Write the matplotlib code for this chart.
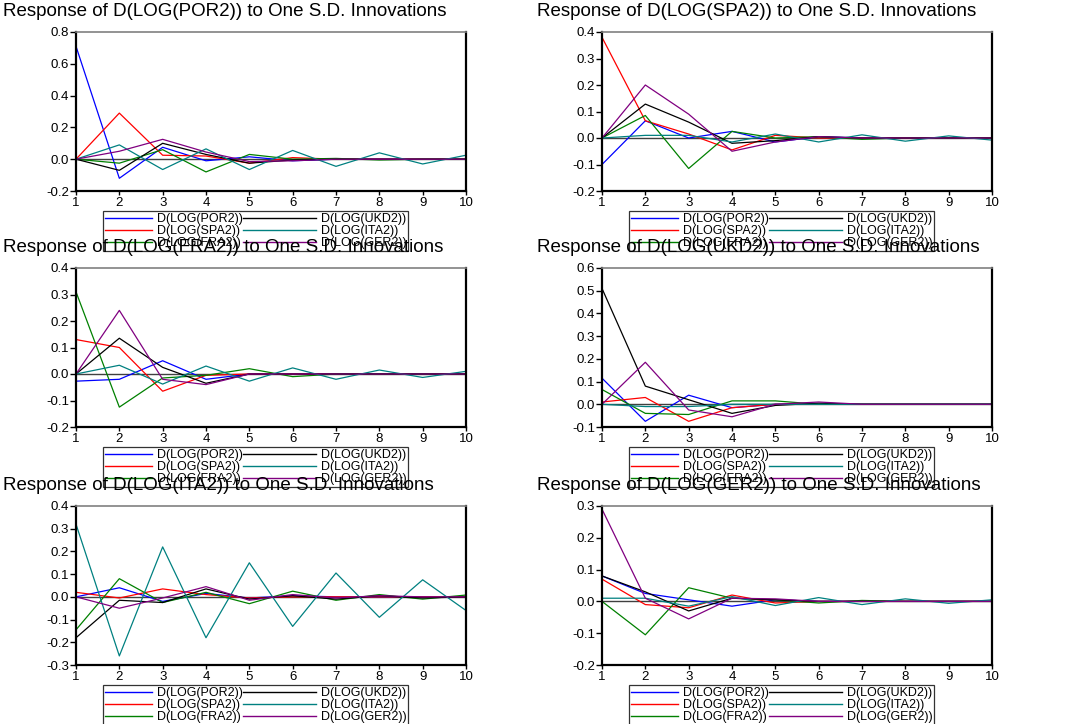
import matplotlib
matplotlib.use('Agg')
import matplotlib.pyplot as plt
from matplotlib.ticker import FuncFormatter, FixedLocator
from matplotlib.legend_handler import HandlerLine2D

plt.rcParams['font.family'] = ['Liberation Sans', 'DejaVu Sans']

horizon = list(range(1, 11))
shock_labels = ['D(LOG(POR2))', 'D(LOG(SPA2))', 'D(LOG(FRA2))',
                'D(LOG(UKD2))', 'D(LOG(ITA2))', 'D(LOG(GER2))']
shock_colors = ['#0000ff', '#ff0000', '#008000', '#000000', '#008080', '#800080']

# each row: response to a shock in POR2, SPA2, FRA2, UKD2, ITA2, GER2
resp_por = [
    [0.71, -0.12, 0.075, -0.01, 0.015, -0.01, 0.0, 0.0, 0.0, 0.0],
    [0.0, 0.29, 0.025, 0.02, -0.025, 0.01, 0.0, 0.0, 0.0, 0.0],
    [0.0, -0.025, 0.06, -0.08, 0.03, 0.0, 0.005, -0.005, 0.0, 0.0],
    [0.0, -0.07, 0.10, 0.03, -0.025, -0.005, 0.0, 0.0, 0.0, 0.0],
    [0.0, 0.09, -0.065, 0.065, -0.065, 0.055, -0.045, 0.04, -0.03, 0.025],
    [0.0, 0.05, 0.125, 0.045, -0.015, -0.01, 0.0, 0.0, 0.0, 0.0],
]
resp_spa = [
    [-0.10, 0.065, 0.0, 0.025, -0.015, 0.005, 0.0, 0.0, 0.0, 0.0],
    [0.38, 0.065, 0.015, -0.045, 0.01, 0.0, 0.0, 0.0, 0.0, 0.0],
    [0.0, 0.085, -0.115, 0.025, 0.0, 0.005, -0.005, 0.0, 0.0, 0.0],
    [0.0, 0.128, 0.06, -0.02, -0.01, 0.005, 0.0, 0.0, 0.0, 0.0],
    [0.0, 0.01, 0.01, -0.015, 0.015, -0.015, 0.012, -0.012, 0.008, -0.008],
    [0.0, 0.20, 0.09, -0.05, -0.015, 0.005, 0.0, 0.0, 0.0, 0.0],
]
resp_fra = [
    [-0.027, -0.02, 0.05, -0.02, 0.0, 0.0, 0.0, 0.0, 0.0, 0.0],
    [0.13, 0.10, -0.065, -0.005, 0.0, 0.0, 0.0, 0.0, 0.0, 0.0],
    [0.31, -0.125, -0.015, -0.005, 0.02, -0.01, 0.0, 0.0, 0.0, 0.0],
    [0.0, 0.135, 0.025, -0.035, 0.0, 0.0, 0.0, 0.0, 0.0, 0.0],
    [0.0, 0.033, -0.038, 0.03, -0.027, 0.023, -0.02, 0.015, -0.013, 0.01],
    [0.0, 0.24, -0.02, -0.04, 0.0, 0.0, 0.0, 0.0, 0.0, 0.0],
]
resp_ukd = [
    [0.115, -0.075, 0.04, -0.015, 0.0, 0.0, 0.0, 0.0, 0.0, 0.0],
    [0.01, 0.03, -0.075, -0.015, 0.0, 0.0, 0.0, 0.0, 0.0, 0.0],
    [0.065, -0.04, -0.045, 0.015, 0.015, 0.0, 0.0, 0.0, 0.0, 0.0],
    [0.51, 0.08, 0.02, -0.04, -0.005, 0.005, 0.0, 0.0, 0.0, 0.0],
    [0.0, -0.01, -0.01, 0.0, 0.0, 0.0, 0.0, 0.0, 0.0, 0.0],
    [0.0, 0.185, -0.025, -0.055, 0.0, 0.01, 0.0, 0.0, 0.0, 0.0],
]
resp_ita = [
    [0.0, 0.04, -0.02, 0.015, -0.005, 0.005, 0.0, 0.0, 0.0, 0.0],
    [0.02, -0.005, 0.035, 0.01, -0.005, 0.0, 0.0, 0.0, 0.0, 0.0],
    [-0.145, 0.08, -0.025, 0.02, -0.03, 0.025, -0.015, 0.01, -0.01, 0.008],
    [-0.18, -0.015, -0.025, 0.035, -0.01, 0.005, -0.01, 0.005, -0.005, 0.0],
    [0.32, -0.26, 0.22, -0.18, 0.15, -0.13, 0.105, -0.09, 0.075, -0.06],
    [0.0, -0.05, -0.005, 0.045, -0.015, 0.01, -0.005, 0.005, 0.0, 0.0],
]
resp_ger = [
    [0.08, 0.025, 0.005, -0.015, 0.005, 0.0, 0.0, 0.0, 0.0, 0.0],
    [0.07, -0.01, -0.02, 0.02, -0.005, 0.0, 0.0, 0.0, 0.0, 0.0],
    [0.0, -0.105, 0.043, 0.01, 0.005, -0.005, 0.003, 0.0, 0.0, 0.0],
    [0.08, 0.03, -0.03, 0.01, 0.005, 0.0, 0.0, 0.0, 0.0, 0.0],
    [0.01, 0.01, -0.015, 0.015, -0.013, 0.012, -0.01, 0.008, -0.006, 0.005],
    [0.29, 0.01, -0.055, 0.01, 0.008, 0.0, 0.0, 0.0, 0.0, 0.0],
]

titles = ['Response of D(LOG(POR2)) to One S.D. Innovations',
          'Response of D(LOG(SPA2)) to One S.D. Innovations',
          'Response of D(LOG(FRA2)) to One S.D. Innovations',
          'Response of D(LOG(UKD2)) to One S.D. Innovations',
          'Response of D(LOG(ITA2)) to One S.D. Innovations',
          'Response of D(LOG(GER2)) to One S.D. Innovations']
panel_data = [resp_por, resp_spa, resp_fra, resp_ukd, resp_ita, resp_ger]
y_limits = [(-0.2, 0.8), (-0.2, 0.4), (-0.2, 0.4), (-0.1, 0.6), (-0.3, 0.4), (-0.2, 0.3)]
y_steps = [0.2, 0.1, 0.1, 0.1, 0.1, 0.1]


class HandlerLeftExt(HandlerLine2D):
    """Line handle extended to the left (into the column gap)."""
    def __init__(self, ext, **kw):
        super().__init__(**kw)
        self.ext = ext

    def create_artists(self, legend, orig_handle, xdescent, ydescent,
                       width, height, fontsize, trans):
        return super().create_artists(legend, orig_handle, xdescent + self.ext,
                                      ydescent, width + self.ext, height,
                                      fontsize, trans)


W, H = 1078, 724
fig = plt.figure(figsize=(W / 100, H / 100), dpi=100)

lefts = [76, 602]
tops = [32, 268, 506]
ax_w, ax_h = 390, 159

fmt = FuncFormatter(lambda v, p: ('%.1f' % (round(v, 3) + 0.0)).replace('-0.0', '0.0'))

LEG_FS = 9
COLSP = 2.0
ext_pts = COLSP * LEG_FS

for i in range(6):
    r, c = divmod(i, 2)
    L, T = lefts[c], tops[r]
    ax = fig.add_axes([L / W, 1 - (T + ax_h) / H, ax_w / W, ax_h / H])
    ax.axhline(0, color='#404040', lw=1.0, zorder=1)
    lines = []
    for k in range(6):
        ln, = ax.plot(horizon, panel_data[i][k], color=shock_colors[k], lw=0.9,
                      label=shock_labels[k], zorder=2)
        lines.append(ln)
    lo, hi = y_limits[i]
    ax.set_xlim(1, 10)
    ax.set_ylim(lo, hi)
    n = int(round((hi - lo) / y_steps[i]))
    ax.yaxis.set_major_locator(FixedLocator([lo + j * y_steps[i] for j in range(n + 1)]))
    ax.yaxis.set_major_formatter(fmt)
    ax.set_xticks(horizon)
    ax.tick_params(axis='y', direction='out', length=4, width=1, labelsize=9.5, pad=1)
    ax.tick_params(axis='x', direction='out', length=3, width=1, labelsize=9.5, pad=1)
    for s in ['left', 'bottom', 'right']:
        ax.spines[s].set_linewidth(1.6)
        ax.spines[s].set_color('black')
    ax.spines['top'].set_linewidth(1.2)
    ax.spines['top'].set_color('#808080')
    # title
    fig.text((3 if c == 0 else 537) / W, 1 - (T - 20) / H, titles[i],
             ha='left', va='center', fontsize=13.5)
    # legend
    hmap = {lines[k]: HandlerLeftExt(ext_pts) for k in (3, 4, 5)}
    leg = ax.legend(handles=lines, loc='upper left',
                    bbox_to_anchor=((L + 27) / W, 1 - (T + ax_h + 20) / H),
                    bbox_transform=fig.transFigure, ncol=2, fontsize=LEG_FS,
                    frameon=True, fancybox=False, edgecolor='black',
                    handlelength=3.8, handletextpad=0.4, columnspacing=COLSP,
                    labelspacing=0.0, borderpad=0.15, borderaxespad=0,
                    handler_map=hmap)
    leg.get_frame().set_linewidth(0.9)
    for line in leg.get_lines():
        line.set_linewidth(1.0)

fig.savefig('out.png', dpi=100)
